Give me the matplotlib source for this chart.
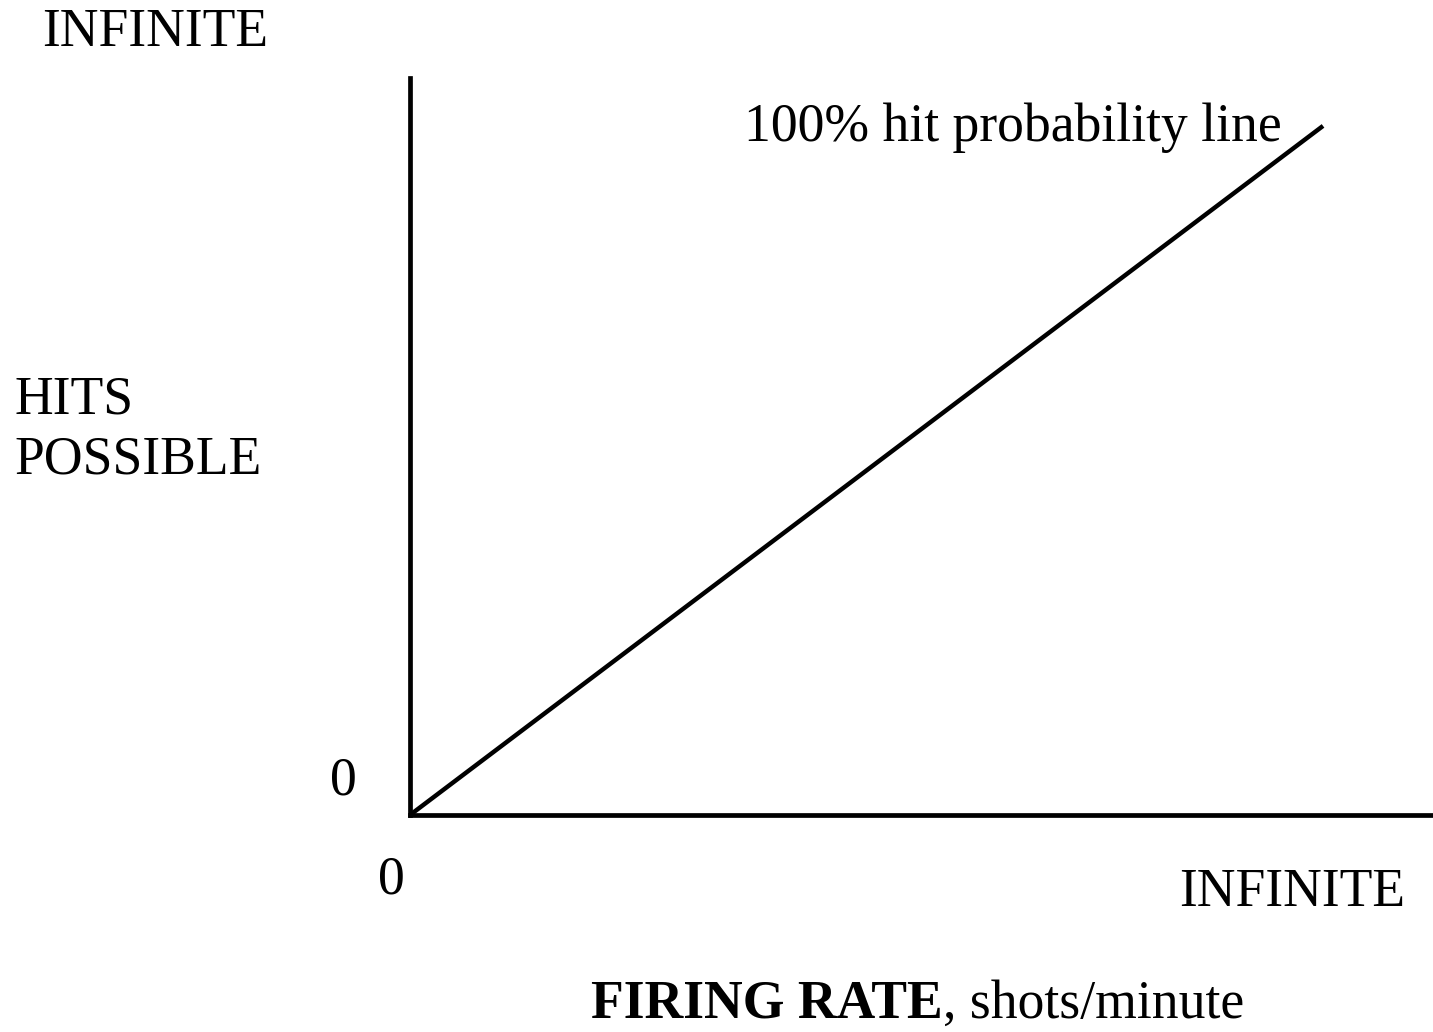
import matplotlib.pyplot as plt

# data: the 100% hit probability line (axis units, 0..1 = 0..infinite)
line_x = [0.0, 0.8925]
line_y = [0.0, 0.935]
y_labels = ["0", "INFINITE"]
x_labels = ["0", "INFINITE"]
line_label = "100% hit probability line"
y_title = "HITS\nPOSSIBLE"

W, H = 1433, 1032
plt.rcParams["font.family"] = ["Liberation Serif", "DejaVu Serif"]

fig = plt.figure(figsize=(W / 100, H / 100), dpi=100)
# axes box in pixels: left 410, right 1433, top 78, bottom 815
ax = fig.add_axes([410 / W, 1 - 815 / H, (1433 - 410) / W, (815 - 78) / H])
ax.set_xlim(0, 1)
ax.set_ylim(0, 1)
ax.plot(line_x, line_y, color="black", lw=3.2, solid_capstyle="butt")

for s in ["top", "right"]:
    ax.spines[s].set_visible(False)
for s in ["left", "bottom"]:
    ax.spines[s].set_linewidth(3.4)
ax.set_xticks([])
ax.set_yticks([])
ax.patch.set_alpha(0)

fs = 38.6
fig.text(42 / W, 1 - 33 / H, y_labels[1], fontsize=fs, va="center", ha="left")
fig.text(14 / W, 1 - 430 / H, y_title, fontsize=fs, va="center", ha="left",
         linespacing=1.25)
fig.text(330 / W, 1 - 781 / H, y_labels[0], fontsize=fs, va="center", ha="left")
fig.text(378 / W, 1 - 880 / H, x_labels[0], fontsize=fs, va="center", ha="left")
fig.text(1405 / W, 1 - 893 / H, x_labels[1], fontsize=fs, va="center", ha="right")
fig.text(1282 / W, 1 - 128 / H, line_label, fontsize=fs, va="center", ha="right")

t1 = fig.text(591 / W, 1 - 1005 / H, "FIRING RATE", fontsize=fs,
              fontweight="bold", va="center", ha="left")
fig.canvas.draw()
bb = t1.get_window_extent()
fig.text(bb.x1 / W, 1 - 1005 / H, ", shots/minute", fontsize=fs,
         va="center", ha="left")

fig.savefig("out.png", dpi=100)
